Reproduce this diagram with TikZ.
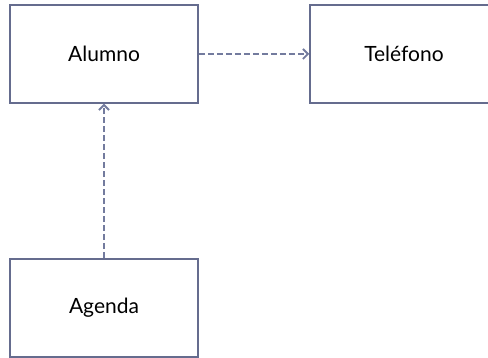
\documentclass[tikz,border=0pt]{standalone}
\usepackage{fontspec}
\setmainfont{Lato}
\usetikzlibrary{arrows.meta}
\definecolor{boxline}{HTML}{656C8E}
\definecolor{linkline}{HTML}{737B9E}
\begin{document}
\begin{tikzpicture}[x=1pt,y=-1pt,
  classbox/.style={draw=boxline, line width=1.5pt, fill=white,
    minimum width=188pt, minimum height=98pt, inner sep=0pt,
    font=\fontsize{21}{24}\selectfont},
  dep/.style={draw=linkline, line width=2pt, dash pattern=on 6pt off 3pt,
    -{Straight Barb[length=5pt,width=10pt,line width=1.8pt]}}]
  \useasboundingbox (0,0) rectangle (488,358);
  \node[classbox] (alumno)   at (104,54)  {Alumno};
  \node[classbox] (telefono) at (404,54)  {Teléfono};
  \node[classbox] (agenda)   at (104,308) {Agenda};
  \draw[dep] (alumno.east) -- (telefono.west);
  \draw[dep] (agenda.north) -- (alumno.south);
\end{tikzpicture}
\end{document}
